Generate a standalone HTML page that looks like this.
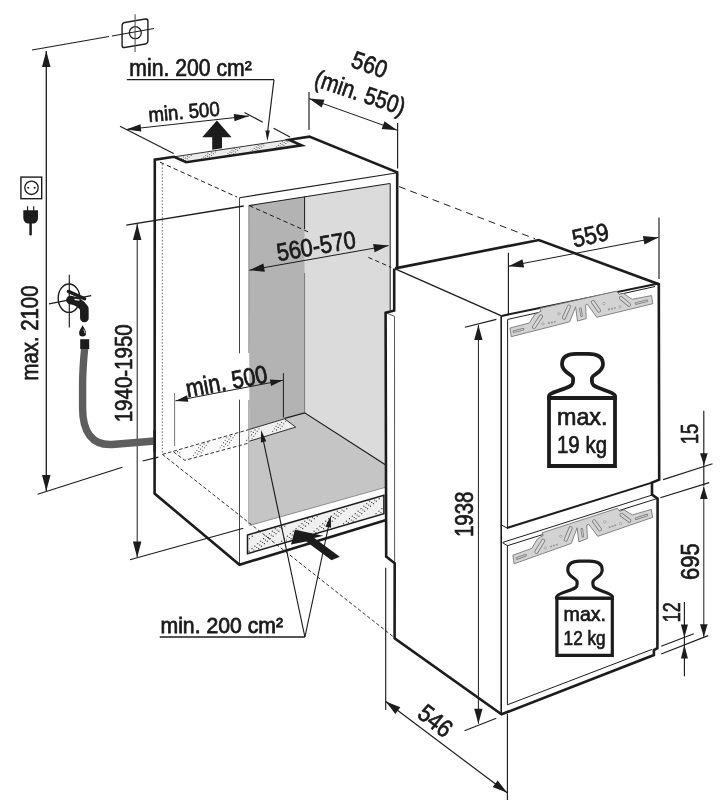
<!DOCTYPE html>
<html><head><meta charset="utf-8"><title>Installation dimensions</title>
<style>html,body{margin:0;padding:0;background:#fff}svg{display:block}text{font-family:"Liberation Sans",sans-serif;fill:#1a1a1a;stroke:#1a1a1a;stroke-width:.7px}</style></head>
<body><svg width="723" height="800" viewBox="0 0 723 800" style="will-change:transform">

<rect width="723" height="800" fill="#fff"/>
<polygon points="304.7,196.8 390.0,183.5 390.0,311.0 385.8,312.0 385.8,465.0 304.7,412.8" fill="#dbdbdb" />
<polygon points="248.8,205.6 304.7,196.8 304.7,412.8 249.4,429.4" fill="#b3b3b3" />
<polygon points="249.4,429.4 304.7,412.8 385.8,465.0 385.8,487.3 249.4,525.5" fill="#c5c5c5" />
<polygon points="249.4,429.4 284.6,418.8 295.7,427.1 249.4,441.2" fill="#f0f0f0" />
<g fill="#2a2a2a"><circle cx="251.2" cy="431.2" r="0.55"/><circle cx="251.6" cy="434.9" r="0.55"/><circle cx="253.3" cy="432.4" r="0.55"/><circle cx="255.0" cy="429.9" r="0.55"/><circle cx="252.1" cy="438.7" r="0.55"/><circle cx="253.8" cy="436.2" r="0.55"/><circle cx="255.5" cy="433.7" r="0.55"/><circle cx="257.2" cy="431.2" r="0.55"/><circle cx="258.9" cy="428.7" r="0.55"/><circle cx="272.7" cy="431.2" r="0.55"/><circle cx="274.4" cy="428.7" r="0.55"/><circle cx="276.1" cy="426.2" r="0.55"/><circle cx="277.8" cy="423.7" r="0.55"/><circle cx="276.5" cy="429.9" r="0.55"/><circle cx="278.2" cy="427.4" r="0.55"/><circle cx="279.9" cy="424.9" r="0.55"/><circle cx="281.6" cy="422.4" r="0.55"/><circle cx="280.4" cy="428.7" r="0.55"/><circle cx="282.1" cy="426.2" r="0.55"/><circle cx="283.8" cy="423.7" r="0.55"/><circle cx="285.5" cy="421.2" r="0.55"/></g>
<polygon points="173.6,451.9 249.4,429.4 249.4,441.2 184.8,460.3" fill="#fafafa" />
<g fill="#2a2a2a"><circle cx="177.5" cy="451.6" r="0.55"/><circle cx="179.7" cy="452.8" r="0.55"/><circle cx="193.5" cy="455.3" r="0.55"/><circle cx="195.2" cy="452.8" r="0.55"/><circle cx="196.9" cy="450.3" r="0.55"/><circle cx="198.6" cy="447.8" r="0.55"/><circle cx="200.3" cy="445.3" r="0.55"/><circle cx="197.3" cy="454.1" r="0.55"/><circle cx="199.0" cy="451.6" r="0.55"/><circle cx="200.7" cy="449.1" r="0.55"/><circle cx="202.4" cy="446.6" r="0.55"/><circle cx="204.1" cy="444.1" r="0.55"/><circle cx="201.2" cy="452.8" r="0.55"/><circle cx="202.9" cy="450.3" r="0.55"/><circle cx="204.6" cy="447.8" r="0.55"/><circle cx="206.3" cy="445.3" r="0.55"/><circle cx="208.0" cy="442.8" r="0.55"/><circle cx="220.1" cy="447.8" r="0.55"/><circle cx="221.8" cy="445.3" r="0.55"/><circle cx="223.5" cy="442.8" r="0.55"/><circle cx="225.2" cy="440.3" r="0.55"/><circle cx="226.9" cy="437.8" r="0.55"/><circle cx="223.9" cy="446.6" r="0.55"/><circle cx="225.6" cy="444.1" r="0.55"/><circle cx="227.3" cy="441.6" r="0.55"/><circle cx="229.0" cy="439.1" r="0.55"/><circle cx="230.7" cy="436.6" r="0.55"/><circle cx="227.8" cy="445.3" r="0.55"/><circle cx="229.5" cy="442.8" r="0.55"/><circle cx="231.2" cy="440.3" r="0.55"/><circle cx="232.9" cy="437.8" r="0.55"/><circle cx="234.6" cy="435.3" r="0.55"/><circle cx="246.7" cy="440.3" r="0.55"/><circle cx="248.4" cy="437.8" r="0.55"/></g>
<polygon points="174.1,156.8 289.0,139.6 301.4,145.6 186.1,162.2" fill="#ececec" />
<g fill="#2a2a2a"><circle cx="181.6" cy="158.8" r="0.5"/><circle cx="183.6" cy="157.1" r="0.5"/><circle cx="183.4" cy="159.6" r="0.5"/><circle cx="185.4" cy="157.9" r="0.5"/><circle cx="187.4" cy="156.2" r="0.5"/><circle cx="185.2" cy="160.5" r="0.5"/><circle cx="187.2" cy="158.8" r="0.5"/><circle cx="189.2" cy="157.1" r="0.5"/><circle cx="191.2" cy="155.4" r="0.5"/><circle cx="201.8" cy="158.8" r="0.5"/><circle cx="203.8" cy="157.1" r="0.5"/><circle cx="205.8" cy="155.4" r="0.5"/><circle cx="207.8" cy="153.7" r="0.5"/><circle cx="205.6" cy="157.9" r="0.5"/><circle cx="207.6" cy="156.2" r="0.5"/><circle cx="209.6" cy="154.5" r="0.5"/><circle cx="211.6" cy="152.8" r="0.5"/><circle cx="209.4" cy="157.1" r="0.5"/><circle cx="211.4" cy="155.4" r="0.5"/><circle cx="213.4" cy="153.7" r="0.5"/><circle cx="215.4" cy="152.0" r="0.5"/><circle cx="226.0" cy="155.4" r="0.5"/><circle cx="228.0" cy="153.7" r="0.5"/><circle cx="230.0" cy="152.0" r="0.5"/><circle cx="232.0" cy="150.3" r="0.5"/><circle cx="234.0" cy="148.6" r="0.5"/><circle cx="229.8" cy="154.5" r="0.5"/><circle cx="231.8" cy="152.8" r="0.5"/><circle cx="233.8" cy="151.1" r="0.5"/><circle cx="235.8" cy="149.4" r="0.5"/><circle cx="233.6" cy="153.7" r="0.5"/><circle cx="235.6" cy="152.0" r="0.5"/><circle cx="237.6" cy="150.3" r="0.5"/><circle cx="239.6" cy="148.6" r="0.5"/><circle cx="250.2" cy="152.0" r="0.5"/><circle cx="252.2" cy="150.3" r="0.5"/><circle cx="254.2" cy="148.6" r="0.5"/><circle cx="256.2" cy="146.9" r="0.5"/><circle cx="258.2" cy="145.2" r="0.5"/><circle cx="254.0" cy="151.1" r="0.5"/><circle cx="256.0" cy="149.4" r="0.5"/><circle cx="258.0" cy="147.8" r="0.5"/><circle cx="260.0" cy="146.0" r="0.5"/><circle cx="262.0" cy="144.3" r="0.5"/><circle cx="257.8" cy="150.3" r="0.5"/><circle cx="259.8" cy="148.6" r="0.5"/><circle cx="261.8" cy="146.9" r="0.5"/><circle cx="263.8" cy="145.2" r="0.5"/><circle cx="274.3" cy="148.6" r="0.5"/><circle cx="276.3" cy="146.9" r="0.5"/><circle cx="278.3" cy="145.2" r="0.5"/><circle cx="280.3" cy="143.5" r="0.5"/><circle cx="282.3" cy="141.8" r="0.5"/><circle cx="278.1" cy="147.8" r="0.5"/><circle cx="280.1" cy="146.0" r="0.5"/><circle cx="282.1" cy="144.3" r="0.5"/><circle cx="284.1" cy="142.6" r="0.5"/><circle cx="286.1" cy="140.9" r="0.5"/><circle cx="281.9" cy="146.9" r="0.5"/><circle cx="283.9" cy="145.2" r="0.5"/><circle cx="285.9" cy="143.5" r="0.5"/><circle cx="287.9" cy="141.8" r="0.5"/><circle cx="298.5" cy="145.2" r="0.5"/></g>
<polygon points="247.5,535.0 383.9,495.3 383.9,513.8 247.5,553.7" fill="#f0f0f0" />
<g fill="#2a2a2a"><circle cx="249.4" cy="538.7" r="0.62"/><circle cx="252.3" cy="536.2" r="0.62"/><circle cx="249.1" cy="551.2" r="0.62"/><circle cx="252.0" cy="548.7" r="0.62"/><circle cx="254.9" cy="546.2" r="0.62"/><circle cx="257.8" cy="543.7" r="0.62"/><circle cx="260.7" cy="541.2" r="0.62"/><circle cx="263.6" cy="538.7" r="0.62"/><circle cx="266.5" cy="536.2" r="0.62"/><circle cx="269.4" cy="533.7" r="0.62"/><circle cx="272.3" cy="531.2" r="0.62"/><circle cx="275.2" cy="528.7" r="0.62"/><circle cx="253.9" cy="550.0" r="0.62"/><circle cx="256.8" cy="547.5" r="0.62"/><circle cx="259.7" cy="545.0" r="0.62"/><circle cx="262.6" cy="542.5" r="0.62"/><circle cx="265.5" cy="540.0" r="0.62"/><circle cx="268.4" cy="537.5" r="0.62"/><circle cx="271.3" cy="535.0" r="0.62"/><circle cx="274.2" cy="532.5" r="0.62"/><circle cx="277.1" cy="530.0" r="0.62"/><circle cx="280.0" cy="527.5" r="0.62"/><circle cx="258.6" cy="548.7" r="0.62"/><circle cx="261.5" cy="546.2" r="0.62"/><circle cx="264.4" cy="543.7" r="0.62"/><circle cx="267.3" cy="541.2" r="0.62"/><circle cx="270.2" cy="538.7" r="0.62"/><circle cx="273.1" cy="536.2" r="0.62"/><circle cx="276.0" cy="533.7" r="0.62"/><circle cx="278.9" cy="531.2" r="0.62"/><circle cx="281.8" cy="528.7" r="0.62"/><circle cx="284.7" cy="526.2" r="0.62"/><circle cx="281.6" cy="541.2" r="0.62"/><circle cx="284.5" cy="538.7" r="0.62"/><circle cx="287.4" cy="536.2" r="0.62"/><circle cx="290.3" cy="533.7" r="0.62"/><circle cx="293.2" cy="531.2" r="0.62"/><circle cx="296.1" cy="528.7" r="0.62"/><circle cx="299.0" cy="526.2" r="0.62"/><circle cx="301.9" cy="523.7" r="0.62"/><circle cx="304.8" cy="521.2" r="0.62"/><circle cx="307.7" cy="518.7" r="0.62"/><circle cx="286.4" cy="540.0" r="0.62"/><circle cx="289.3" cy="537.5" r="0.62"/><circle cx="292.2" cy="535.0" r="0.62"/><circle cx="295.1" cy="532.5" r="0.62"/><circle cx="298.0" cy="530.0" r="0.62"/><circle cx="300.9" cy="527.5" r="0.62"/><circle cx="303.8" cy="525.0" r="0.62"/><circle cx="306.7" cy="522.5" r="0.62"/><circle cx="309.6" cy="520.0" r="0.62"/><circle cx="312.5" cy="517.5" r="0.62"/><circle cx="291.1" cy="538.7" r="0.62"/><circle cx="294.0" cy="536.2" r="0.62"/><circle cx="296.9" cy="533.7" r="0.62"/><circle cx="299.8" cy="531.2" r="0.62"/><circle cx="302.7" cy="528.7" r="0.62"/><circle cx="305.6" cy="526.2" r="0.62"/><circle cx="308.5" cy="523.7" r="0.62"/><circle cx="311.4" cy="521.2" r="0.62"/><circle cx="314.3" cy="518.7" r="0.62"/><circle cx="317.2" cy="516.2" r="0.62"/><circle cx="311.2" cy="533.7" r="0.62"/><circle cx="314.1" cy="531.2" r="0.62"/><circle cx="317.0" cy="528.7" r="0.62"/><circle cx="319.9" cy="526.2" r="0.62"/><circle cx="322.8" cy="523.7" r="0.62"/><circle cx="325.7" cy="521.2" r="0.62"/><circle cx="328.6" cy="518.7" r="0.62"/><circle cx="331.5" cy="516.2" r="0.62"/><circle cx="334.4" cy="513.7" r="0.62"/><circle cx="337.3" cy="511.2" r="0.62"/><circle cx="315.9" cy="532.5" r="0.62"/><circle cx="318.8" cy="530.0" r="0.62"/><circle cx="321.7" cy="527.5" r="0.62"/><circle cx="324.6" cy="525.0" r="0.62"/><circle cx="327.5" cy="522.5" r="0.62"/><circle cx="330.4" cy="520.0" r="0.62"/><circle cx="333.3" cy="517.5" r="0.62"/><circle cx="336.2" cy="515.0" r="0.62"/><circle cx="339.1" cy="512.5" r="0.62"/><circle cx="342.0" cy="510.0" r="0.62"/><circle cx="323.6" cy="528.7" r="0.62"/><circle cx="326.5" cy="526.2" r="0.62"/><circle cx="329.4" cy="523.7" r="0.62"/><circle cx="332.3" cy="521.2" r="0.62"/><circle cx="335.2" cy="518.7" r="0.62"/><circle cx="338.1" cy="516.2" r="0.62"/><circle cx="341.0" cy="513.7" r="0.62"/><circle cx="343.9" cy="511.2" r="0.62"/><circle cx="346.8" cy="508.7" r="0.62"/><circle cx="343.6" cy="523.7" r="0.62"/><circle cx="346.5" cy="521.2" r="0.62"/><circle cx="349.4" cy="518.7" r="0.62"/><circle cx="352.3" cy="516.2" r="0.62"/><circle cx="355.2" cy="513.7" r="0.62"/><circle cx="358.1" cy="511.2" r="0.62"/><circle cx="361.0" cy="508.7" r="0.62"/><circle cx="363.9" cy="506.2" r="0.62"/><circle cx="366.8" cy="503.7" r="0.62"/><circle cx="369.7" cy="501.2" r="0.62"/><circle cx="348.4" cy="522.5" r="0.62"/><circle cx="351.3" cy="520.0" r="0.62"/><circle cx="354.2" cy="517.5" r="0.62"/><circle cx="357.1" cy="515.0" r="0.62"/><circle cx="360.0" cy="512.5" r="0.62"/><circle cx="362.9" cy="510.0" r="0.62"/><circle cx="365.8" cy="507.5" r="0.62"/><circle cx="368.7" cy="505.0" r="0.62"/><circle cx="371.6" cy="502.5" r="0.62"/><circle cx="374.5" cy="500.0" r="0.62"/><circle cx="353.1" cy="521.2" r="0.62"/><circle cx="356.0" cy="518.7" r="0.62"/><circle cx="358.9" cy="516.2" r="0.62"/><circle cx="361.8" cy="513.7" r="0.62"/><circle cx="364.7" cy="511.2" r="0.62"/><circle cx="367.6" cy="508.7" r="0.62"/><circle cx="370.5" cy="506.2" r="0.62"/><circle cx="373.4" cy="503.7" r="0.62"/><circle cx="376.3" cy="501.2" r="0.62"/><circle cx="379.2" cy="498.7" r="0.62"/><circle cx="376.1" cy="513.7" r="0.62"/><circle cx="379.0" cy="511.2" r="0.62"/><circle cx="381.9" cy="508.7" r="0.62"/><circle cx="380.9" cy="512.5" r="0.62"/></g>
<line x1="160.0" y1="162.2" x2="237.0" y2="197.0" stroke="#1c1c1c" stroke-width="1" stroke-linecap="butt" stroke-dasharray="4.5 3"/>
<line x1="162.3" y1="164.0" x2="162.3" y2="454.0" stroke="#555" stroke-width="0.9" stroke-linecap="butt" stroke-dasharray="1.5 1.8"/>
<line x1="249.2" y1="205.6" x2="310.8" y2="233.0" stroke="#1c1c1c" stroke-width="1" stroke-linecap="butt" stroke-dasharray="4.5 3"/>
<line x1="368.3" y1="257.4" x2="391.3" y2="267.4" stroke="#1c1c1c" stroke-width="1" stroke-linecap="butt" stroke-dasharray="4.5 3"/>
<line x1="399.0" y1="186.6" x2="535.0" y2="238.8" stroke="#1c1c1c" stroke-width="1" stroke-linecap="butt" stroke-dasharray="7 5"/>
<line x1="162.4" y1="454.4" x2="393.0" y2="636.5" stroke="#1c1c1c" stroke-width="0.9" stroke-linecap="butt" stroke-dasharray="3.6 2.2"/>
<polyline points="249.4,429.4 162.4,454.4" fill="none" stroke="#1c1c1c" stroke-width="0.9" stroke-linejoin="miter" stroke-linecap="butt" stroke-dasharray="3.6 2.2"/>
<polyline points="173.6,451.9 184.8,460.3 249.4,442.9" fill="none" stroke="#1c1c1c" stroke-width="0.9" stroke-linejoin="miter" stroke-linecap="butt" stroke-dasharray="3.6 2.2"/>
<line x1="239.5" y1="197.7" x2="397.6" y2="172.8" stroke="#1c1c1c" stroke-width="1.1" stroke-linecap="butt"/>
<line x1="239.5" y1="197.7" x2="239.5" y2="353.3" stroke="#444" stroke-width="1" stroke-linecap="butt"/>
<line x1="239.5" y1="399.7" x2="239.5" y2="564.5" stroke="#444" stroke-width="1" stroke-linecap="butt"/>
<line x1="248.8" y1="205.6" x2="389.9" y2="183.5" stroke="#1c1c1c" stroke-width="1.1" stroke-linecap="butt"/>
<line x1="248.8" y1="205.6" x2="248.8" y2="353.0" stroke="#777" stroke-width="0.8" stroke-linecap="butt"/>
<line x1="248.8" y1="400.0" x2="248.8" y2="524.6" stroke="#777" stroke-width="0.8" stroke-linecap="butt"/>
<line x1="304.6" y1="196.6" x2="304.6" y2="229.0" stroke="#1c1c1c" stroke-width="1" stroke-linecap="butt"/>
<line x1="304.6" y1="273.0" x2="304.6" y2="412.8" stroke="#666" stroke-width="0.8" stroke-linecap="butt"/>
<line x1="390.2" y1="183.5" x2="390.2" y2="310.0" stroke="#1c1c1c" stroke-width="1" stroke-linecap="butt"/>
<polyline points="284.6,418.4 304.7,412.8 385.8,465.0" fill="none" stroke="#1c1c1c" stroke-width="1.2" stroke-linejoin="miter" stroke-linecap="butt"/>
<line x1="283.4" y1="373.2" x2="283.4" y2="417.5" stroke="#1c1c1c" stroke-width="1" stroke-linecap="butt"/>
<line x1="249.4" y1="525.5" x2="385.6" y2="487.3" stroke="#777" stroke-width="0.8" stroke-linecap="butt"/>
<polyline points="249.4,429.4 284.6,418.8 295.7,427.1 249.4,441.2" fill="none" stroke="#1c1c1c" stroke-width="0.9" stroke-linejoin="miter" stroke-linecap="butt"/>
<line x1="174.1" y1="156.8" x2="289.0" y2="139.6" stroke="#1c1c1c" stroke-width="0.9" stroke-linecap="butt"/>
<polygon points="247.5,535.0 383.9,495.3 383.9,513.8 247.5,553.7" fill="none" stroke="#1c1c1c" stroke-width="1.5" />
<polyline points="386.2,520.1 239.5,564.7 154.6,493.6 154.8,159.7 174.1,156.8 186.1,162.2 301.6,145.4 289.0,139.8 309.4,136.6 397.2,172.4 397.2,268.6" fill="none" stroke="#1c1c1c" stroke-width="2.6" stroke-linejoin="miter" stroke-linecap="butt"/>
<line x1="395.2" y1="268.8" x2="501.5" y2="315.9" stroke="#1c1c1c" stroke-width="1.3" stroke-linecap="butt"/>
<line x1="501.2" y1="315.9" x2="501.2" y2="714.3" stroke="#1c1c1c" stroke-width="1.6" stroke-linecap="butt"/>
<line x1="501.5" y1="315.9" x2="658.5" y2="283.5" stroke="#1c1c1c" stroke-width="2" stroke-linecap="butt"/>
<line x1="507.8" y1="319.4" x2="655.0" y2="286.5" stroke="#1c1c1c" stroke-width="1" stroke-linecap="butt"/>
<line x1="507.6" y1="319.4" x2="507.6" y2="527.8" stroke="#1c1c1c" stroke-width="1" stroke-linecap="butt"/>
<line x1="506.9" y1="528.0" x2="652.0" y2="482.6" stroke="#1c1c1c" stroke-width="2" stroke-linecap="butt"/>
<line x1="503.0" y1="542.3" x2="652.6" y2="494.9" stroke="#1c1c1c" stroke-width="1" stroke-linecap="butt"/>
<line x1="507.4" y1="545.7" x2="657.6" y2="498.4" stroke="#1c1c1c" stroke-width="1" stroke-linecap="butt"/>
<line x1="507.4" y1="546.0" x2="507.4" y2="704.8" stroke="#1c1c1c" stroke-width="1" stroke-linecap="butt"/>
<line x1="501.5" y1="525.0" x2="508.0" y2="528.5" stroke="#1c1c1c" stroke-width="1" stroke-linecap="butt"/>
<line x1="502.4" y1="542.6" x2="508.0" y2="546.0" stroke="#1c1c1c" stroke-width="1" stroke-linecap="butt"/>
<line x1="507.4" y1="704.8" x2="652.0" y2="649.4" stroke="#1c1c1c" stroke-width="1" stroke-linecap="butt"/>
<polyline points="387.0,313.2 394.5,316.4 394.6,563.0" fill="none" stroke="#444" stroke-width="0.9" stroke-linejoin="miter" stroke-linecap="butt"/>
<polyline points="395.2,268.4 538.8,240.0 658.8,284.2 659.2,479.6 652.0,482.6 652.0,494.5 657.6,498.7 657.4,648.2 653.9,650.0 653.9,655.0 501.5,714.3 394.6,638.4 394.7,563.3 386.2,556.6 385.6,312.8 394.2,310.6 394.2,268.6" fill="none" stroke="#1c1c1c" stroke-width="2.6" stroke-linejoin="miter" stroke-linecap="butt"/>
<polygon points="510.0,328.0 529.3,323.0 534.9,314.3 541.1,311.2 539.8,308.4 616.7,291.2 619.2,294.3 623.5,293.4 632.2,299.3 651.5,295.6 652.8,303.7 596.8,317.3 587.4,304.3 585.6,305.0 586.2,318.6 577.5,321.1 575.6,306.8 569.7,321.8 511.2,336.7" fill="#d3d3d3" stroke="#787878" stroke-width="0.9" stroke-linejoin="round"/>
<line x1="534.0" y1="327.0" x2="541.0" y2="316.4" stroke="#7c7c7c" stroke-width="4.0" stroke-linecap="round"/>
<line x1="534.0" y1="327.0" x2="541.0" y2="316.4" stroke="#d8d8d8" stroke-width="2.3" stroke-linecap="round"/>
<line x1="564.0" y1="317.6" x2="569.0" y2="306.5" stroke="#7c7c7c" stroke-width="4.0" stroke-linecap="round"/>
<line x1="564.0" y1="317.6" x2="569.0" y2="306.5" stroke="#d8d8d8" stroke-width="2.3" stroke-linecap="round"/>
<line x1="593.0" y1="302.0" x2="599.0" y2="310.6" stroke="#7c7c7c" stroke-width="4.0" stroke-linecap="round"/>
<line x1="593.0" y1="302.0" x2="599.0" y2="310.6" stroke="#d8d8d8" stroke-width="2.3" stroke-linecap="round"/>
<line x1="621.0" y1="298.1" x2="629.0" y2="304.7" stroke="#7c7c7c" stroke-width="4.0" stroke-linecap="round"/>
<line x1="621.0" y1="298.1" x2="629.0" y2="304.7" stroke="#d8d8d8" stroke-width="2.3" stroke-linecap="round"/>
<line x1="514.0" y1="331.6" x2="523.0" y2="329.3" stroke="#7c7c7c" stroke-width="2.6" stroke-linecap="round"/>
<line x1="514.0" y1="331.6" x2="523.0" y2="329.3" stroke="#d8d8d8" stroke-width="0.9000000000000001" stroke-linecap="round"/>
<line x1="636.0" y1="303.4" x2="647.0" y2="300.8" stroke="#7c7c7c" stroke-width="2.6" stroke-linecap="round"/>
<line x1="636.0" y1="303.4" x2="647.0" y2="300.8" stroke="#d8d8d8" stroke-width="0.9000000000000001" stroke-linecap="round"/>
<line x1="580.5" y1="308.9" x2="581.5" y2="315.6" stroke="#7c7c7c" stroke-width="2.6" stroke-linecap="round"/>
<line x1="580.5" y1="308.9" x2="581.5" y2="315.6" stroke="#d8d8d8" stroke-width="0.9000000000000001" stroke-linecap="round"/>
<circle cx="543.0" cy="323.9" r="1.2" fill="#e2e2e2" stroke="#8a8a8a" stroke-width=".6"/>
<circle cx="559.0" cy="313.8" r="1.2" fill="#e2e2e2" stroke="#8a8a8a" stroke-width=".6"/>
<circle cx="604.0" cy="303.5" r="1.2" fill="#e2e2e2" stroke="#8a8a8a" stroke-width=".6"/>
<circle cx="620.0" cy="306.8" r="1.2" fill="#e2e2e2" stroke="#8a8a8a" stroke-width=".6"/>
<line x1="548.0" y1="323.3" x2="556.0" y2="321.5" stroke="#999" stroke-width="1.6" stroke-dasharray="2 1"/>
<line x1="608.0" y1="309.6" x2="616.0" y2="307.7" stroke="#999" stroke-width="1.6" stroke-dasharray="2 1"/>
<polygon points="512.9,555.2 531.8,548.4 537.3,539.1 543.3,535.4 542.0,532.8 617.3,508.3 619.7,511.1 623.9,509.9 632.4,514.9 651.3,509.4 652.6,517.4 597.8,536.3 588.6,524.1 586.8,525.0 587.4,538.5 578.9,541.9 577.1,527.8 571.3,543.4 514.1,563.8" fill="#d3d3d3" stroke="#787878" stroke-width="0.9" stroke-linejoin="round"/>
<line x1="536.4" y1="551.9" x2="543.2" y2="540.7" stroke="#7c7c7c" stroke-width="4.0" stroke-linecap="round"/>
<line x1="536.4" y1="551.9" x2="543.2" y2="540.7" stroke="#d8d8d8" stroke-width="2.3" stroke-linecap="round"/>
<line x1="565.7" y1="539.7" x2="570.6" y2="528.1" stroke="#7c7c7c" stroke-width="4.0" stroke-linecap="round"/>
<line x1="565.7" y1="539.7" x2="570.6" y2="528.1" stroke="#d8d8d8" stroke-width="2.3" stroke-linecap="round"/>
<line x1="594.1" y1="521.3" x2="599.9" y2="529.4" stroke="#7c7c7c" stroke-width="4.0" stroke-linecap="round"/>
<line x1="594.1" y1="521.3" x2="599.9" y2="529.4" stroke="#d8d8d8" stroke-width="2.3" stroke-linecap="round"/>
<line x1="621.5" y1="514.8" x2="629.3" y2="520.7" stroke="#7c7c7c" stroke-width="4.0" stroke-linecap="round"/>
<line x1="621.5" y1="514.8" x2="629.3" y2="520.7" stroke="#d8d8d8" stroke-width="2.3" stroke-linecap="round"/>
<line x1="516.8" y1="558.4" x2="525.6" y2="555.3" stroke="#7c7c7c" stroke-width="2.6" stroke-linecap="round"/>
<line x1="516.8" y1="558.4" x2="525.6" y2="555.3" stroke="#d8d8d8" stroke-width="0.9000000000000001" stroke-linecap="round"/>
<line x1="636.1" y1="518.7" x2="646.9" y2="515.1" stroke="#7c7c7c" stroke-width="2.6" stroke-linecap="round"/>
<line x1="636.1" y1="518.7" x2="646.9" y2="515.1" stroke="#d8d8d8" stroke-width="0.9000000000000001" stroke-linecap="round"/>
<line x1="581.8" y1="529.4" x2="582.8" y2="536.1" stroke="#7c7c7c" stroke-width="2.6" stroke-linecap="round"/>
<line x1="581.8" y1="529.4" x2="582.8" y2="536.1" stroke="#d8d8d8" stroke-width="0.9000000000000001" stroke-linecap="round"/>
<circle cx="545.2" cy="548.0" r="1.2" fill="#e2e2e2" stroke="#8a8a8a" stroke-width=".6"/>
<circle cx="560.8" cy="536.3" r="1.2" fill="#e2e2e2" stroke="#8a8a8a" stroke-width=".6"/>
<circle cx="604.8" cy="521.8" r="1.2" fill="#e2e2e2" stroke="#8a8a8a" stroke-width=".6"/>
<circle cx="620.5" cy="523.6" r="1.2" fill="#e2e2e2" stroke="#8a8a8a" stroke-width=".6"/>
<line x1="550.1" y1="546.9" x2="557.9" y2="544.3" stroke="#999" stroke-width="1.6" stroke-dasharray="2 1"/>
<line x1="608.7" y1="527.5" x2="616.6" y2="524.9" stroke="#999" stroke-width="1.6" stroke-dasharray="2 1"/>
<path d="M549.0,398.0 L549.0,466.0 L615.0,466.0 L615.0,398.0 Z" fill="#fff" stroke="#1c1c1c" stroke-width="3.80" stroke-linejoin="miter"/>
<path d="M549.0,398.5 L549.0,396.0 C549.0,393.0 560.0,390.5 566.0,388.0 C571.0,386.0 573.1,385.0 573.1,381.0 L573.1,378.5 C573.1,374.0 562.0,373.0 562.0,364.3 C562.0,356.5 568.0,353.9 576.0,353.9 L588.0,353.9 C596.0,353.9 603.0,356.5 603.0,364.3 C603.0,373.0 591.9,374.0 591.9,378.5 L591.9,381.0 C591.9,385.0 594.0,386.0 599.0,388.0 C605.0,390.5 615.0,393.0 615.0,396.0 L615.0,398.5" fill="#fff" stroke="#1c1c1c" stroke-width="3.80" stroke-linejoin="round"/>
<line x1="547.1" y1="398.0" x2="616.9" y2="398.0" stroke="#1c1c1c" stroke-width="3.80"/>
<text x="557.0" y="424.5" font-size="24" text-anchor="start" textLength="50.5" lengthAdjust="spacingAndGlyphs">max.</text>
<text x="557.0" y="453.3" font-size="24" text-anchor="start" textLength="50.0" lengthAdjust="spacingAndGlyphs">19 kg</text>
<path d="M556.9,598.2 L556.9,655.4 L612.3,655.4 L612.3,598.2 Z" fill="#fff" stroke="#1c1c1c" stroke-width="3.19" stroke-linejoin="miter"/>
<path d="M556.9,598.7 L556.9,596.6 C556.9,594.0 566.1,591.9 571.2,589.8 C575.4,588.2 577.1,587.3 577.1,584.0 L577.1,581.9 C577.1,578.1 567.8,577.2 567.8,569.9 C567.8,563.4 572.8,561.2 579.6,561.2 L589.6,561.2 C596.4,561.2 602.2,563.4 602.2,569.9 C602.2,577.2 592.9,578.1 592.9,581.9 L592.9,584.0 C592.9,587.3 594.7,588.2 598.9,589.8 C603.9,591.9 612.3,594.0 612.3,596.6 L612.3,598.7" fill="#fff" stroke="#1c1c1c" stroke-width="3.19" stroke-linejoin="round"/>
<line x1="555.3" y1="598.2" x2="613.9" y2="598.2" stroke="#1c1c1c" stroke-width="3.19"/>
<text x="563.6" y="620.5" font-size="21" text-anchor="start" textLength="42.4" lengthAdjust="spacingAndGlyphs">max.</text>
<text x="563.6" y="644.7" font-size="21" text-anchor="start" textLength="42.0" lengthAdjust="spacingAndGlyphs">12 kg</text>
<line x1="46.3" y1="51.0" x2="46.3" y2="490.9" stroke="#1c1c1c" stroke-width="1.3" stroke-linecap="butt"/>
<polygon points="46.3,51.0 50.5,67.0 42.0,67.0" fill="#1c1c1c" />
<polygon points="46.3,490.9 42.0,474.9 50.5,474.9" fill="#1c1c1c" />
<line x1="32.0" y1="50.0" x2="109.0" y2="36.5" stroke="#1c1c1c" stroke-width="1.15" stroke-linecap="butt"/>
<line x1="112.0" y1="36.0" x2="154.0" y2="28.5" stroke="#1c1c1c" stroke-width="1.15" stroke-linecap="butt"/>
<line x1="37.6" y1="494.3" x2="122.4" y2="467.3" stroke="#1c1c1c" stroke-width="1.15" stroke-linecap="butt"/>
<text x="38.4" y="380.5" font-size="23.5" text-anchor="start" textLength="95.0" lengthAdjust="spacingAndGlyphs" transform="rotate(-90.00 38.4 380.5)">max. 2100</text>
<line x1="137.2" y1="224.0" x2="137.2" y2="557.5" stroke="#1c1c1c" stroke-width="1" stroke-linecap="butt"/>
<polygon points="137.2,224.0 141.4,240.0 132.9,240.0" fill="#1c1c1c" />
<polygon points="137.2,557.5 132.9,541.5 141.4,541.5" fill="#1c1c1c" />
<line x1="126.3" y1="225.1" x2="243.7" y2="206.0" stroke="#1c1c1c" stroke-width="1.4" stroke-linecap="butt"/>
<line x1="130.0" y1="559.7" x2="243.3" y2="528.3" stroke="#1c1c1c" stroke-width="1.15" stroke-linecap="butt"/>
<text x="132.4" y="422.3" font-size="23.5" text-anchor="start" textLength="98.0" lengthAdjust="spacingAndGlyphs" transform="rotate(-90.00 132.4 422.3)">1940-1950</text>
<line x1="142.6" y1="461.0" x2="158.4" y2="457.1" stroke="#1c1c1c" stroke-width="1.15" stroke-linecap="butt"/>
<line x1="126.0" y1="129.6" x2="249.0" y2="116.0" stroke="#1c1c1c" stroke-width="1" stroke-linecap="butt"/>
<polygon points="126.0,129.6 140.5,124.3 141.3,131.6" fill="#1c1c1c" />
<polygon points="249.0,116.0 234.5,121.3 233.7,114.0" fill="#1c1c1c" />
<line x1="120.0" y1="126.2" x2="173.6" y2="153.6" stroke="#1c1c1c" stroke-width="1.15" stroke-linecap="butt"/>
<line x1="244.5" y1="112.4" x2="262.8" y2="122.2" stroke="#1c1c1c" stroke-width="1.15" stroke-linecap="butt"/>
<line x1="273.6" y1="128.2" x2="290.0" y2="136.9" stroke="#1c1c1c" stroke-width="1.15" stroke-linecap="butt"/>
<text x="149.0" y="121.9" font-size="20.5" text-anchor="start" textLength="71.5" lengthAdjust="spacingAndGlyphs" transform="rotate(-5.00 149.0 121.9)">min. 500</text>
<text x="129.3" y="75.7" font-size="23" text-anchor="start" textLength="122.5" lengthAdjust="spacingAndGlyphs">min. 200 cm²</text>
<line x1="126.8" y1="79.6" x2="274.0" y2="79.6" stroke="#1c1c1c" stroke-width="1.2" stroke-linecap="butt"/>
<line x1="274.0" y1="79.6" x2="267.6" y2="132.0" stroke="#1c1c1c" stroke-width="1.15" stroke-linecap="butt"/>
<polygon points="267.3,141.0 265.4,130.4 269.9,130.6" fill="#1c1c1c" />
<line x1="309.0" y1="98.6" x2="397.2" y2="130.2" stroke="#1c1c1c" stroke-width="1" stroke-linecap="butt"/>
<polygon points="309.0,98.6 324.5,99.7 321.7,107.6" fill="#1c1c1c" />
<polygon points="397.2,130.2 381.7,129.1 384.5,121.2" fill="#1c1c1c" />
<line x1="309.0" y1="92.0" x2="309.0" y2="130.0" stroke="#1c1c1c" stroke-width="1.15" stroke-linecap="butt"/>
<line x1="397.6" y1="123.0" x2="397.6" y2="168.6" stroke="#1c1c1c" stroke-width="1.15" stroke-linecap="butt"/>
<text x="366.8" y="72.5" font-size="24.5" text-anchor="middle" textLength="36.0" lengthAdjust="spacingAndGlyphs" transform="rotate(19.70 366.8 72.5)">560</text>
<text x="357.5" y="100.5" font-size="24.5" text-anchor="middle" textLength="94.0" lengthAdjust="spacingAndGlyphs" transform="rotate(18.50 357.5 100.5)">(min. 550)</text>
<line x1="249.4" y1="270.2" x2="388.6" y2="245.6" stroke="#1c1c1c" stroke-width="1" stroke-linecap="butt"/>
<polygon points="249.4,270.2 263.4,263.5 264.9,271.7" fill="#1c1c1c" />
<polygon points="388.6,245.6 374.6,252.3 373.1,244.1" fill="#1c1c1c" />
<text x="278.2" y="261.3" font-size="25" text-anchor="start" textLength="80.0" lengthAdjust="spacingAndGlyphs" transform="rotate(-9.80 278.2 261.3)">560-570</text>
<line x1="508.6" y1="266.2" x2="658.4" y2="237.4" stroke="#1c1c1c" stroke-width="1" stroke-linecap="butt"/>
<polygon points="508.6,266.2 522.5,259.2 524.1,267.5" fill="#1c1c1c" />
<polygon points="658.4,237.4 644.5,244.4 642.9,236.1" fill="#1c1c1c" />
<line x1="508.4" y1="252.7" x2="508.4" y2="315.0" stroke="#1c1c1c" stroke-width="1.15" stroke-linecap="butt"/>
<line x1="659.0" y1="217.4" x2="659.0" y2="279.0" stroke="#1c1c1c" stroke-width="1.15" stroke-linecap="butt"/>
<text x="592.3" y="243.6" font-size="25" text-anchor="middle" textLength="37.0" lengthAdjust="spacingAndGlyphs" transform="rotate(-12.30 592.3 243.6)">559</text>
<line x1="478.4" y1="324.9" x2="478.4" y2="723.8" stroke="#1c1c1c" stroke-width="1" stroke-linecap="butt"/>
<polygon points="478.4,324.9 482.5,339.9 474.2,339.9" fill="#1c1c1c" />
<polygon points="478.4,723.8 474.2,708.8 482.5,708.8" fill="#1c1c1c" />
<line x1="464.9" y1="327.2" x2="496.4" y2="319.4" stroke="#1c1c1c" stroke-width="1.15" stroke-linecap="butt"/>
<line x1="464.5" y1="730.8" x2="496.3" y2="718.3" stroke="#1c1c1c" stroke-width="1.15" stroke-linecap="butt"/>
<text x="473.0" y="537.0" font-size="25" text-anchor="start" textLength="45.5" lengthAdjust="spacingAndGlyphs" transform="rotate(-90.00 473.0 537.0)">1938</text>
<line x1="703.8" y1="410.7" x2="703.8" y2="486.0" stroke="#1c1c1c" stroke-width="1.15" stroke-linecap="butt"/>
<polygon points="703.9,465.3 700.1,453.3 707.7,453.3" fill="#1c1c1c" />
<line x1="663.1" y1="479.6" x2="712.5" y2="463.8" stroke="#1c1c1c" stroke-width="1.15" stroke-linecap="butt"/>
<line x1="660.3" y1="497.8" x2="709.2" y2="482.6" stroke="#1c1c1c" stroke-width="1.15" stroke-linecap="butt"/>
<text x="698.4" y="444.2" font-size="23.5" text-anchor="start" textLength="20.6" lengthAdjust="spacingAndGlyphs" transform="rotate(-90.00 698.4 444.2)">15</text>
<line x1="703.8" y1="486.6" x2="703.8" y2="636.8" stroke="#1c1c1c" stroke-width="1" stroke-linecap="butt"/>
<polygon points="703.8,486.6 707.6,499.1 700.0,499.1" fill="#1c1c1c" />
<polygon points="703.8,636.8 700.0,624.3 707.6,624.3" fill="#1c1c1c" />
<line x1="661.2" y1="654.0" x2="708.1" y2="635.6" stroke="#1c1c1c" stroke-width="1.15" stroke-linecap="butt"/>
<text x="698.7" y="580.0" font-size="25" text-anchor="start" textLength="36.6" lengthAdjust="spacingAndGlyphs" transform="rotate(-90.00 698.7 580.0)">695</text>
<line x1="684.4" y1="602.0" x2="684.4" y2="676.3" stroke="#1c1c1c" stroke-width="1.15" stroke-linecap="butt"/>
<polygon points="684.4,637.4 680.9,624.4 687.9,624.4" fill="#1c1c1c" />
<polygon points="684.4,645.0 687.9,658.5 680.9,658.5" fill="#1c1c1c" />
<line x1="661.2" y1="646.2" x2="693.8" y2="633.8" stroke="#1c1c1c" stroke-width="1.15" stroke-linecap="butt"/>
<text x="680.4" y="622.2" font-size="23.5" text-anchor="start" textLength="20.0" lengthAdjust="spacingAndGlyphs" transform="rotate(-90.00 680.4 622.2)">12</text>
<line x1="385.8" y1="701.6" x2="507.2" y2="792.8" stroke="#1c1c1c" stroke-width="1.2" stroke-linecap="butt"/>
<polygon points="385.8,701.6 400.3,707.3 395.3,714.0" fill="#1c1c1c" />
<polygon points="507.2,792.8 492.7,787.1 497.7,780.4" fill="#1c1c1c" />
<line x1="385.7" y1="567.8" x2="385.7" y2="710.0" stroke="#1c1c1c" stroke-width="1.15" stroke-linecap="butt"/>
<line x1="507.4" y1="714.0" x2="507.4" y2="800.0" stroke="#1c1c1c" stroke-width="1.15" stroke-linecap="butt"/>
<text x="430.0" y="727.5" font-size="25" text-anchor="middle" textLength="36.0" lengthAdjust="spacingAndGlyphs" transform="rotate(38.50 430.0 727.5)">546</text>
<line x1="175.4" y1="400.9" x2="282.8" y2="380.3" stroke="#1c1c1c" stroke-width="1" stroke-linecap="butt"/>
<polygon points="175.4,400.9 187.1,395.3 188.3,401.8" fill="#1c1c1c" />
<polygon points="282.8,380.3 271.1,385.9 269.9,379.4" fill="#1c1c1c" />
<line x1="174.6" y1="393.0" x2="174.6" y2="446.0" stroke="#666" stroke-width="0.9" stroke-linecap="butt"/>
<text x="187.4" y="397.3" font-size="25" text-anchor="start" style="stroke-width:0.8px" textLength="82.5" lengthAdjust="spacingAndGlyphs" transform="rotate(-10.60 187.4 397.3)">min. 500</text>
<text x="160.5" y="632.5" font-size="22.5" text-anchor="start" style="stroke-width:0.8px" textLength="122.5" lengthAdjust="spacingAndGlyphs">min. 200 cm²</text>
<line x1="159.7" y1="637.0" x2="304.9" y2="637.0" stroke="#1c1c1c" stroke-width="1.3" stroke-linecap="butt"/>
<line x1="304.9" y1="637.0" x2="263.0" y2="439.0" stroke="#1c1c1c" stroke-width="1.15" stroke-linecap="butt"/>
<polygon points="261.1,430.1 266.3,441.3 260.9,442.4" fill="#1c1c1c" />
<line x1="304.9" y1="637.0" x2="329.0" y2="524.0" stroke="#1c1c1c" stroke-width="1.15" stroke-linecap="butt"/>
<polygon points="330.9,515.5 331.0,527.8 325.5,526.6" fill="#1c1c1c" />
<polygon points="216.9,120.5 231.6,137.3 222.0,137.3 222.0,148.3 212.2,149.8 212.2,137.3 202.2,137.3" fill="#1c1c1c" />
<polygon points="294.9,529.7 323.3,535.7 314.3,538.0 339.8,556.7 331.5,560.2 306.2,541.5 291.0,544.5" fill="#1c1c1c" />
<rect x="122.1" y="20.8" width="25.8" height="24.9" rx="2.6" fill="none" stroke="#1c1c1c" stroke-width="1.4" transform="translate(135 33.2) skewY(-9.6) translate(-135 -33.2)"/>
<circle cx="135.3" cy="32.7" r="6" fill="none" stroke="#1c1c1c" stroke-width="1.3"/>
<line x1="135.1" y1="14.2" x2="135.1" y2="52.0" stroke="#555" stroke-width="1.1" stroke-linecap="butt"/>
<rect x="20.9" y="177.1" width="20.8" height="21.6" fill="#fff" stroke="#1c1c1c" stroke-width="1.4"/>
<circle cx="31.5" cy="187.8" r="6.7" fill="none" stroke="#1c1c1c" stroke-width="1.3"/>
<circle cx="28.2" cy="187.7" r="1" fill="#1c1c1c"/><circle cx="34.6" cy="187.7" r="1" fill="#1c1c1c"/>
<path d="M23.3,210.3 H38 V217.4 Q38,222 34,223.5 H27.4 Q23.3,222 23.3,217.4 Z" fill="#1c1c1c"/>
<rect x="26.95" y="206.2" width="1.15" height="5" fill="#1c1c1c"/><rect x="33.15" y="206.2" width="1.15" height="5" fill="#1c1c1c"/>
<line x1="30.6" y1="223.0" x2="30.6" y2="234.3" stroke="#1c1c1c" stroke-width="2.5" stroke-linecap="round"/>
<ellipse cx="69" cy="298.2" rx="10.8" ry="14.2" fill="none" stroke="#1c1c1c" stroke-width="1.4"/>
<line x1="69.3" y1="274.8" x2="69.3" y2="327.4" stroke="#1c1c1c" stroke-width="1.15" stroke-linecap="butt"/>
<line x1="49.0" y1="303.9" x2="91.2" y2="295.6" stroke="#1c1c1c" stroke-width="1.15" stroke-linecap="butt"/>
<line x1="68.4" y1="291.4" x2="84.6" y2="298.8" stroke="#1c1c1c" stroke-width="3.4" stroke-linecap="round"/>
<path d="M70.5,300 Q80,301.5 84.3,308.5 L84.4,318" fill="none" stroke="#1c1c1c" stroke-width="8.6" stroke-linecap="round" stroke-linejoin="round"/>
<line x1="74.5" y1="299.3" x2="79.5" y2="300.2" stroke="#fff" stroke-width="1.2" stroke-linecap="butt"/>
<path d="M82.6,325.3 C84,328 86.1,330.5 86.1,333 A3.5,3.5 0 0 1 79.1,333 C79.1,330.5 81.2,328 82.6,325.3 Z" fill="#1c1c1c"/>
<path d="M83.6,329.5 C84.5,331 85,332 85,333.3" fill="none" stroke="#fff" stroke-width=".8"/>
<path d="M84.7,348 C83.5,360 82.6,372 82.6,385 L82.6,408 C82.6,432 92,445.5 112,444.5 L155,441" fill="none" stroke="#5e5e5e" stroke-width="7.4"/>
<rect x="80.2" y="339.2" width="9" height="9.8" fill="#1c1c1c"/>
<line x1="154.7" y1="430.0" x2="154.7" y2="452.0" stroke="#1c1c1c" stroke-width="2.6" stroke-linecap="butt"/>
</svg></body></html>
